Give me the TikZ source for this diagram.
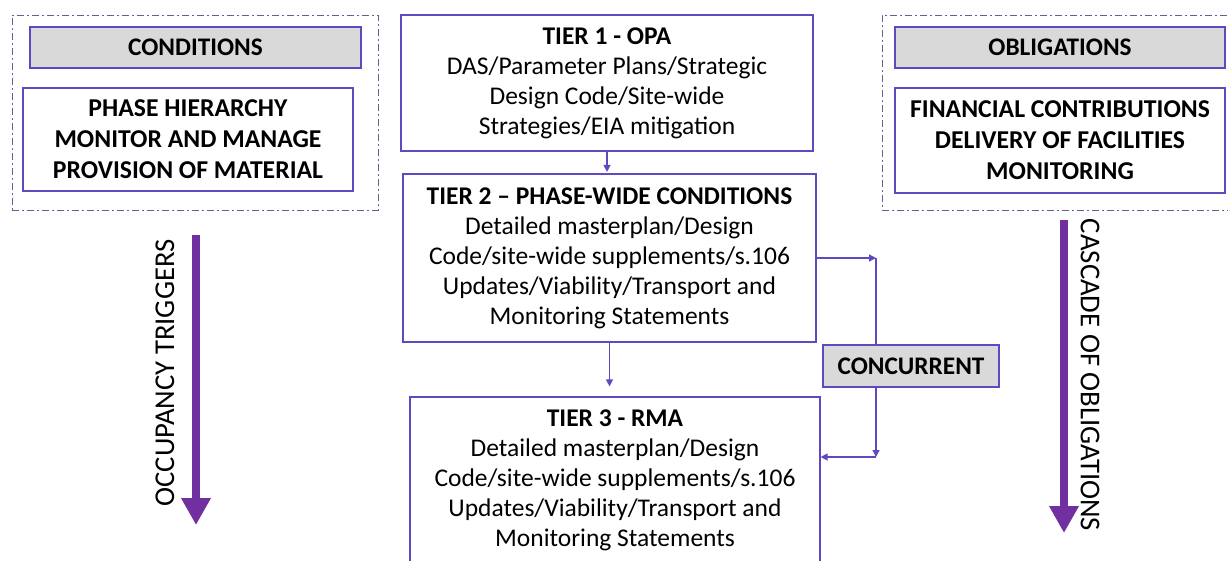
\documentclass[tikz,border=0pt]{standalone}
\usepackage{fontspec}
\setmainfont{Carlito}
\usetikzlibrary{arrows.meta}
\definecolor{boxc}{RGB}{98,72,190}
\definecolor{bigc}{RGB}{112,48,160}
\definecolor{grayf}{RGB}{217,217,217}
\definecolor{dashc}{RGB}{105,95,140}
\tikzset{
  txt/.style={font=\fontsize{25.5}{30}\selectfont, align=center, text=black},
  plainbox/.style={txt, draw=boxc, line width=1.2pt, fill=white, inner sep=0pt},
  headbox/.style={txt, font=\fontsize{25.3}{28}\selectfont\bfseries, draw=boxc, line width=1.2pt, fill=grayf, inner sep=0pt},
  groupbox/.style={draw=dashc, line width=1pt, dash pattern=on 7pt off 3pt on 2pt off 3pt, inner sep=0pt},
  conn/.style={draw=boxc, line width=1.3pt},
  connarr/.style={conn, -{Triangle[length=7pt,width=7pt]}},
  bigarr/.style={draw=bigc, line width=8pt, -{Triangle[length=27pt,width=28pt]}},
  sidetxt/.style={font=\fontsize{28.7}{30}\selectfont, text=black}
}
\begin{document}
\begin{tikzpicture}[x=1pt,y=-1pt]
\useasboundingbox (0,0) rectangle (1228,560);
% left group
\node[groupbox, minimum width=366pt, minimum height=195pt] (lgrp) at (195,112.5) {};
\node[headbox, minimum width=331pt, minimum height=41pt] (condh) at (195.5,47.5) {CONDITIONS};
\node[plainbox, font=\fontsize{25.7}{31}\selectfont\bfseries, minimum width=330pt, minimum height=103pt] (condb) at (188,139.5)
  {PHASE HIERARCHY\\MONITOR AND MANAGE\\PROVISION OF MATERIAL};
% right group
\node[groupbox, minimum width=360pt, minimum height=195pt] (rgrp) at (1062,112.5) {};
\node[headbox, minimum width=330pt, minimum height=41pt] (oblh) at (1060,47.5) {OBLIGATIONS};
\node[plainbox, font=\fontsize{25.7}{31}\selectfont\bfseries, minimum width=330pt, minimum height=105pt] (oblb) at (1060,140.5)
  {FINANCIAL CONTRIBUTIONS\\DELIVERY OF FACILITIES\\MONITORING};
% tiers
\node[plainbox, minimum width=412pt, minimum height=136pt] (t1) at (607,83)
  {\textbf{TIER 1 - OPA}\\DAS/Parameter Plans/Strategic\\Design Code/Site-wide\\Strategies/EIA mitigation};
\node[plainbox, minimum width=413pt, minimum height=168pt] (t2) at (609.5,258)
  {\textbf{TIER 2 – PHASE-WIDE CONDITIONS}\\Detailed masterplan/Design\\Code/site-wide supplements/s.106\\Updates/Viability/Transport and\\Monitoring Statements};
\node[plainbox, minimum width=410pt, minimum height=166pt] (t3) at (615,480)
  {\textbf{TIER 3 - RMA}\\Detailed masterplan/Design\\Code/site-wide supplements/s.106\\Updates/Viability/Transport and\\Monitoring Statements};
\node[headbox, minimum width=176pt, minimum height=42pt] (conc) at (911,366) {CONCURRENT};
% connectors
\draw[connarr, shorten >=1.5pt] (t1.south) -- (t1.south |- t2.north);
\draw[connarr, shorten >=10pt] (t2.south) -- (t2.south |- t3.north);
\coordinate (c1) at (876,258);
\coordinate (c2) at (876,457);
\draw[connarr] (t2.east |- c1) -- (c1);
\draw[conn] (c1) -- (c1 |- conc.north);
\draw[connarr] (c1 |- conc.south) -- (c2);
\draw[connarr] (c2) -- (t3.east |- c2);
% big arrows
\coordinate (la1) at (196,235);
\coordinate (la2) at (196,525);
\draw[bigarr] (la1) -- (la2);
\node[sidetxt, rotate=90] (occ) at (165,373) {OCCUPANCY TRIGGERS};
\coordinate (ra1) at (1064,220);
\coordinate (ra2) at (1064,533);
\draw[bigarr] (ra1) -- (ra2);
\node[sidetxt, rotate=-90] (casc) at (1090,375) {CASCADE OF OBLIGATIONS};
\end{tikzpicture}
\end{document}
